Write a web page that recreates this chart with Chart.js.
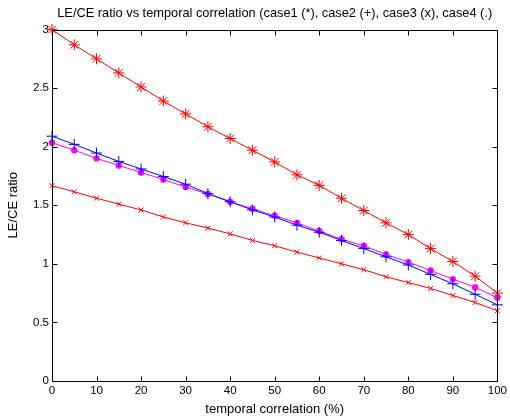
<!DOCTYPE html>
<html>
<head>
<meta charset="utf-8">
<style>
html,body{margin:0;padding:0;background:#fff;}
#wrap{width:510px;height:419px;}
</style>
<script src="https://cdn.jsdelivr.net/npm/chart.js@4/dist/chart.umd.min.js"></script>
</head>
<body>
<div id="wrap"><canvas id="c" width="510" height="419"></canvas></div>
<script>
const xValues = [0,5,10,15,20,25,30,35,40,45,50,55,60,65,70,75,80,85,90,95,100];
const case1 = [3.00,2.87,2.75,2.63,2.51,2.39,2.28,2.17,2.07,1.97,1.87,1.76,1.67,1.56,1.455,1.35,1.25,1.13,1.02,0.895,0.75];
const case2 = [2.09,2.02,1.946,1.874,1.81,1.746,1.68,1.60,1.53,1.46,1.40,1.33,1.27,1.20,1.13,1.06,0.99,0.91,0.83,0.74,0.65];
const case3 = [1.667,1.615,1.56,1.51,1.46,1.40,1.35,1.305,1.256,1.20,1.154,1.10,1.05,1.00,0.95,0.89,0.84,0.79,0.73,0.67,0.60];
const case4 = [2.034,1.97,1.90,1.84,1.78,1.72,1.655,1.596,1.53,1.47,1.41,1.35,1.28,1.21,1.154,1.08,1.015,0.943,0.87,0.80,0.71];
const xTicks = [0,10,20,30,40,50,60,70,80,90,100];
const yTicks = [0,0.5,1,1.5,2,2.5,3];
const yTickLabels = ['0','0.5','1','1.5','2','2.5','3'];
const titleText = 'LE/CE ratio vs temporal correlation (case1 (*), case2 (+), case3 (x), case4 (.)';
const xTitle = 'temporal correlation (%)';
const yTitle = 'LE/CE ratio';

function pts(arr){ return arr.map((v,i)=>({x:xValues[i], y:v})); }

const boxPlugin = {
  id:'box',
  afterDatasetsDraw(chart){
    const ctx = chart.ctx, a = chart.chartArea;
    const xs = chart.scales.x, ys = chart.scales.y;
    ctx.save();
    ctx.strokeStyle = '#000';
    ctx.lineWidth = 1;
    const L = Math.round(a.left)+0.5, R = Math.round(a.right)+0.5, T = Math.round(a.top)+0.5, B = Math.round(a.bottom)+0.5;
    ctx.beginPath();
    ctx.rect(L, T, R-L, B-T);
    const tl = 5;
    xTicks.forEach(v=>{
      const px = Math.round(xs.getPixelForValue(v))+0.5;
      ctx.moveTo(px, B); ctx.lineTo(px, B-tl);
      ctx.moveTo(px, T); ctx.lineTo(px, T+tl);
    });
    yTicks.forEach(v=>{
      const py = Math.round(ys.getPixelForValue(v))+0.5;
      ctx.moveTo(L, py); ctx.lineTo(L+tl, py);
      ctx.moveTo(R, py); ctx.lineTo(R-tl, py);
    });
    ctx.stroke();
    ctx.restore();
  }
};

const tickFont = {family:'"Liberation Sans", Arial, sans-serif', size:11.5};
const titleFont = {family:'"Liberation Sans", Arial, sans-serif', size:12.8, weight:'normal'};
const axisTitleFont = {family:'"Liberation Sans", Arial, sans-serif', size:13, weight:'normal'};

new Chart(document.getElementById('c'), {
  type:'line',
  data:{
    datasets:[
      {label:'case1', data:pts(case1), borderColor:'#ff0000', backgroundColor:'#ff0000', pointStyle:'star', pointRadius:5.5, pointBorderWidth:1, borderWidth:1, clip:false},
      {label:'case2', data:pts(case2), borderColor:'#0000ff', backgroundColor:'#0000ff', pointStyle:'cross', pointRadius:5.5, pointBorderWidth:1, borderWidth:1, clip:false},
      {label:'case3', data:pts(case3), borderColor:'#ff0000', backgroundColor:'#ff0000', pointStyle:'crossRot', pointRadius:3.5, pointBorderWidth:1, borderWidth:1, clip:false},
      {label:'case4', data:pts(case4), borderColor:'#ff00ff', backgroundColor:'#ff00ff', pointStyle:'circle', pointRadius:3.2, pointBorderWidth:0, borderWidth:1, clip:false}
    ]
  },
  options:{
    responsive:false,
    animation:false,
    devicePixelRatio:1,
    layout:{padding:{left:0,right:2,top:0,bottom:0}},
    plugins:{
      legend:{display:false},
      tooltip:{enabled:false},
      title:{display:true, fullSize:false, text:titleText, color:'#000', font:titleFont, padding:{top:6, bottom:8.2}}
    },
    scales:{
      x:{
        type:'linear', min:0, max:100,
        afterBuildTicks(s){ s.ticks = xTicks.map(v=>({value:v})); },
        afterFit(s){ s.height = 38; },
        ticks:{color:'#000', font:tickFont, padding:3, maxRotation:0, autoSkip:false},
        grid:{display:false, drawTicks:false},
        border:{display:false},
        title:{display:true, text:xTitle, color:'#000', font:axisTitleFont, padding:{top:4,bottom:2}}
      },
      y:{
        type:'linear', min:0, max:3,
        afterBuildTicks(s){ s.ticks = yTicks.map(v=>({value:v})); },
        afterFit(s){ s.width = 52; },
        ticks:{color:'#000', font:tickFont, padding:3, autoSkip:false, callback:(v)=>{const i=yTicks.indexOf(v); return i>=0?yTickLabels[i]:'';}},
        grid:{display:false, drawTicks:false},
        border:{display:false},
        title:{display:true, text:yTitle, color:'#000', font:axisTitleFont, padding:{top:6,bottom:0}}
      }
    }
  },
  plugins:[boxPlugin]
});
</script>
</body>
</html>
